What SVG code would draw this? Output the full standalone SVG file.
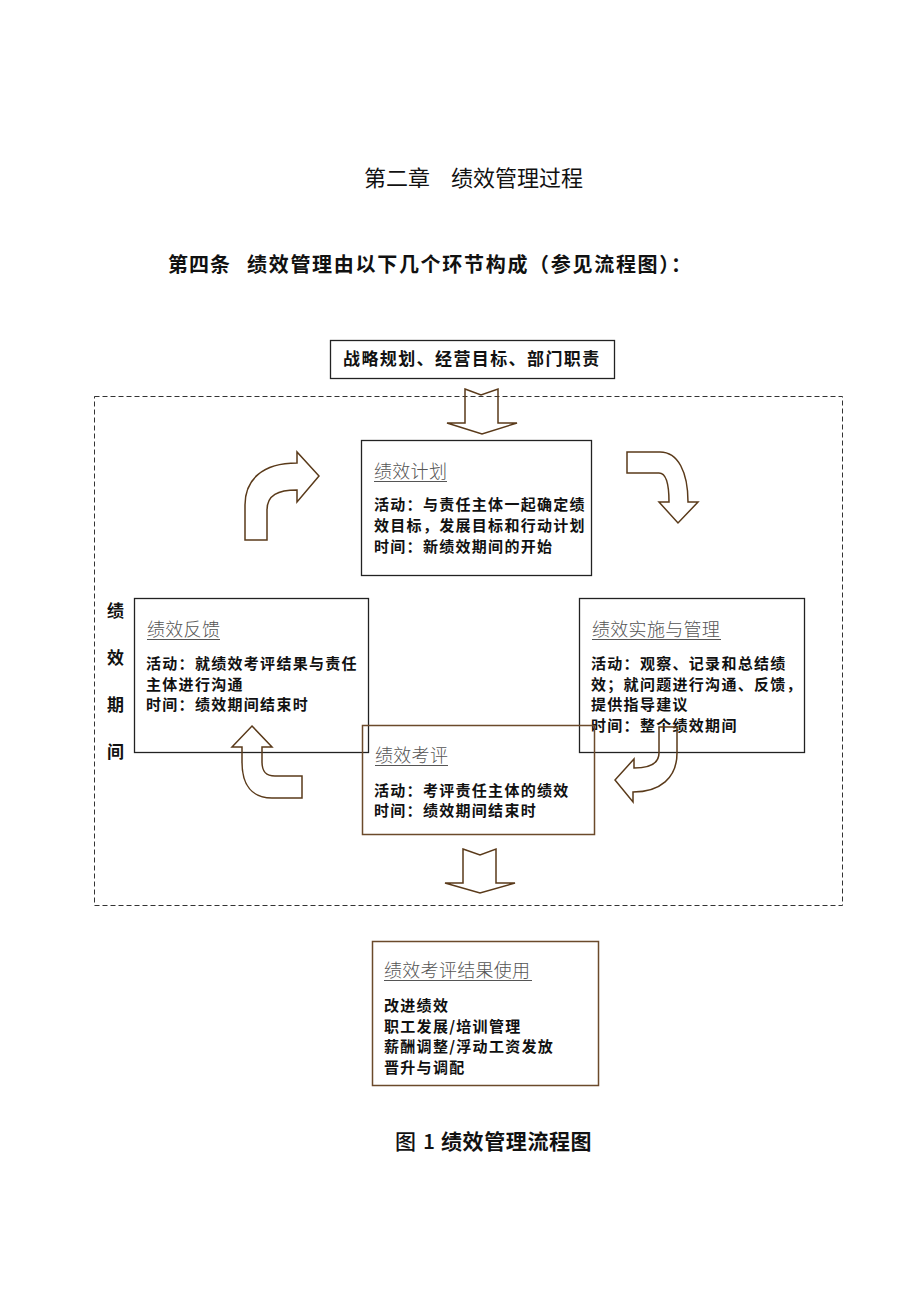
<svg xmlns="http://www.w3.org/2000/svg" width="920" height="1302" viewBox="0 0 920 1302">
<style>
.hd{font-family:"Noto Sans CJK SC",sans-serif;fill:#111}
.ttl{font-family:"Noto Sans CJK SC",sans-serif;font-size:18px;font-weight:300;fill:#555;letter-spacing:0.3px}
.bd{font-family:"Noto Sans CJK SC",sans-serif;font-size:15px;font-weight:700;fill:#111;letter-spacing:1.3px}
.box{fill:none;stroke:#222;stroke-width:1.3}
.bbox{fill:none;stroke:#6b4a2b;stroke-width:1.5}
.ul{stroke:#555;stroke-width:1}
.arr{fill:none;stroke:#5a3a1a;stroke-width:1.5;stroke-linejoin:miter}
</style>
<rect width="920" height="1302" fill="#fff"/>
<g id="headings">
<text class="hd" x="364" y="186" font-size="22">第二章</text>
<text class="hd" x="451" y="186" font-size="22">绩效管理过程</text>
<text class="hd" x="168" y="272" font-size="20" font-weight="700" letter-spacing="1">第四条</text>
<text class="hd" x="247" y="272" font-size="20" font-weight="700" letter-spacing="1.7">绩效管理由以下几个环节构成（参见流程图）：</text>
</g>
<g id="source">
<rect class="box" x="330.5" y="340.5" width="284" height="38"/>
<text class="hd" x="343" y="365" font-size="17" font-weight="700" letter-spacing="1.4">战略规划、经营目标、部门职责</text>
</g>
<g id="period">
<rect x="94.5" y="396.5" width="748" height="509" fill="none" stroke="#333" stroke-width="1" stroke-dasharray="5,3"/>
<text class="hd" x="107" y="617" font-size="17" font-weight="700">绩</text>
<text class="hd" x="107" y="664" font-size="17" font-weight="700">效</text>
<text class="hd" x="107" y="711" font-size="17" font-weight="700">期</text>
<text class="hd" x="107" y="758" font-size="17" font-weight="700">间</text>
</g>
<g id="plan">
<rect class="box" x="361.5" y="440.5" width="230" height="135"/>
<text class="ttl" x="374" y="478">绩效计划</text>
<line class="ul" x1="374" y1="481.5" x2="447" y2="481.5"/>
<text class="bd" x="374" y="510">活动：与责任主体一起确定绩</text>
<text class="bd" x="374" y="531">效目标，发展目标和行动计划</text>
<text class="bd" x="374" y="552">时间：新绩效期间的开始</text>
</g>
<g id="implement">
<rect class="box" x="579.5" y="598.5" width="225" height="154"/>
<text class="ttl" x="592" y="636">绩效实施与管理</text>
<line class="ul" x1="592" y1="639.5" x2="721" y2="639.5"/>
<text class="bd" x="591" y="669">活动：观察、记录和总结绩</text>
<text class="bd" x="591" y="689.5">效；就问题进行沟通、反馈，</text>
<text class="bd" x="591" y="710">提供指导建议</text>
<text class="bd" x="591" y="731">时间：整个绩效期间</text>
</g>
<g id="feedback">
<rect class="box" x="134.5" y="598.5" width="234" height="154"/>
<text class="ttl" x="147" y="636">绩效反馈</text>
<line class="ul" x1="147" y1="639.5" x2="220" y2="639.5"/>
<text class="bd" x="146" y="669">活动：就绩效考评结果与责任</text>
<text class="bd" x="146" y="689.5">主体进行沟通</text>
<text class="bd" x="146" y="710">时间：绩效期间结束时</text>
</g>
<g id="review">
<rect class="bbox" x="362.5" y="725.5" width="232" height="109"/>
<text class="ttl" x="375" y="762">绩效考评</text>
<line class="ul" x1="375" y1="765.5" x2="448" y2="765.5"/>
<text class="bd" x="374" y="796">活动：考评责任主体的绩效</text>
<text class="bd" x="374" y="816">时间：绩效期间结束时</text>
</g>
<g id="result">
<rect class="bbox" x="372.5" y="941.5" width="226" height="144"/>
<text class="ttl" x="384" y="977">绩效考评结果使用</text>
<line class="ul" x1="384" y1="980.5" x2="532" y2="980.5"/>
<text class="bd" x="384" y="1011">改进绩效</text>
<text class="bd" x="384" y="1032">职工发展/培训管理</text>
<text class="bd" x="384" y="1052">薪酬调整/浮动工资发放</text>
<text class="bd" x="384" y="1073">晋升与调配</text>
</g>
<g id="caption">
<text class="hd" x="395" y="1149" font-size="21" font-weight="500">图</text>
<text class="hd" x="423" y="1149" font-size="21" font-weight="500">1</text>
<text class="hd" x="441" y="1149" font-size="21" font-weight="700" letter-spacing="0.6">绩效管理流程图</text>
</g>
<g id="connectors">
<path class="arr" d="M465,389 L481,395 L498,389 L498,423 L517,423 L482,434 L447,423 L465,423 Z"/>
<path class="arr" d="M463,849 L480,855 L496,849 L496,883 L515,883 L480,893 L445,883 L463,883 Z"/>
<path class="arr" d="M245,540 L245,505 C245,480 262,463 297,463 L297,452 L319,476 L297,502 L297,490 C278,490 267,495 267,510 L267,540 Z"/>
<path class="arr" d="M627,452 L660,452 C678,452 688,472 688,502 L698,502 L678,523 L659,502 L669,502 C669,485 666,473 659,473 L627,473 Z"/>
<path class="arr" d="M659,727 L677,727 L677,753 C677,778 660,792 633,792 L633,802 L615,780 L634,759 L634,768 C650,768 659,763 659,753 Z"/>
<path class="arr" d="M252,726 L272,747 L262,747 L262,762 C262,772 266,776 275,776 L302,776 L302,798 L272,798 C252,798 242,785 242,762 L242,747 L232,747 Z"/>
</g>
</svg>
